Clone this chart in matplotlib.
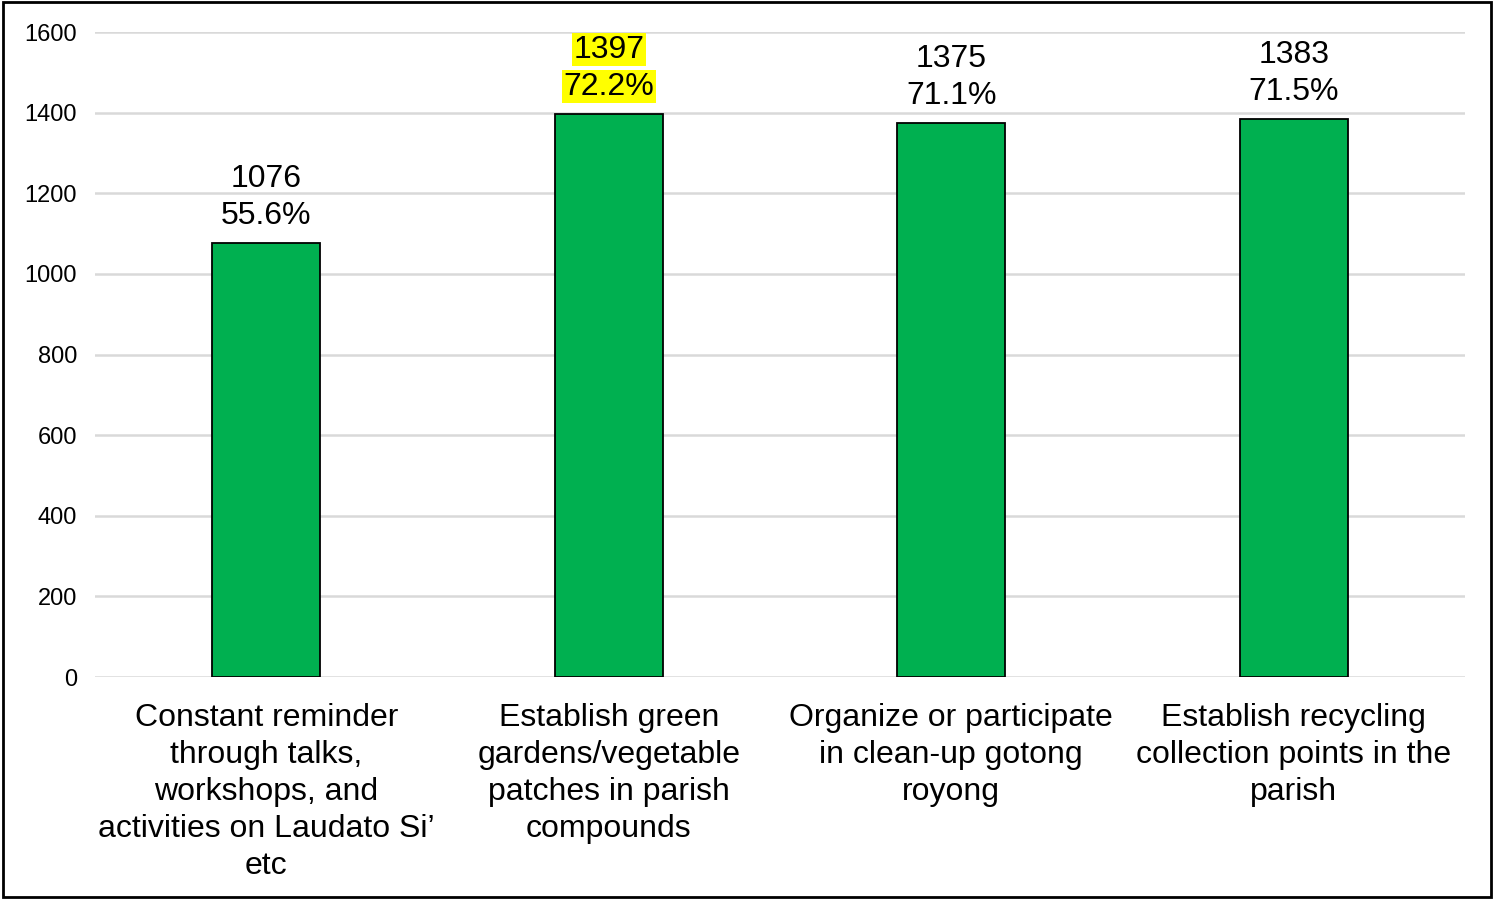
import matplotlib.pyplot as plt
from matplotlib.patches import Rectangle

plt.rcParams['font.family'] = ['Liberation Sans', 'DejaVu Sans']

# Chart data:
categories = [
    'Constant reminder\nthrough talks,\nworkshops, and\nactivities on Laudato Si\u2019\netc',
    'Establish green\ngardens/vegetable\npatches in parish\ncompounds',
    'Organize or participate\nin clean-up gotong\nroyong',
    'Establish recycling\ncollection points in the\nparish',
]
counts = [1076, 1397, 1375, 1383]
pct_labels = ['55.6%', '72.2%', '71.1%', '71.5%']
highlighted = [False, True, False, False]
y_ticks = [0, 200, 400, 600, 800, 1000, 1200, 1400, 1600]

fig = plt.figure(figsize=(14.94, 8.99), dpi=100)
ax = fig.add_axes([0.0636, 0.2469, 0.917, 0.7175])

x = list(range(len(categories)))
ax.bar(x, counts, width=0.315, color='#00B050', edgecolor='black', linewidth=1.3, zorder=3)

# Data labels (value line and percent line, highlight per line):
for xi, c, p, hl in zip(x, counts, pct_labels, highlighted):
    box = dict(boxstyle='square,pad=0.05', fc='#FFFF00', ec='none') if hl else None
    ax.annotate(p, (xi, c), xytext=(0, 27), textcoords='offset pixels',
                ha='center', va='center', fontsize=23, bbox=box, zorder=4)
    ax.annotate(str(c), (xi, c), xytext=(0, 64), textcoords='offset pixels',
                ha='center', va='center', fontsize=23, bbox=box, zorder=4)

ax.set_xlim(-0.5, 3.5)
ax.set_ylim(0, 1600)
ax.set_yticks(y_ticks)
ax.set_xticks(x)
ax.set_xticklabels(categories, fontsize=23, linespacing=1.3)
ax.tick_params(axis='y', length=0, pad=13, labelsize=17)
ax.tick_params(axis='x', length=0, pad=19)
ax.grid(axis='y', color='#D9D9D9', linewidth=1.8, zorder=0)
for s in ax.spines.values():
    s.set_visible(False)

# Outer chart border:
fig.patches.append(Rectangle((0.002, 0.002), 0.996, 0.996, transform=fig.transFigure,
                             fill=False, edgecolor='black', linewidth=2))

fig.savefig('out.png', dpi=100)
